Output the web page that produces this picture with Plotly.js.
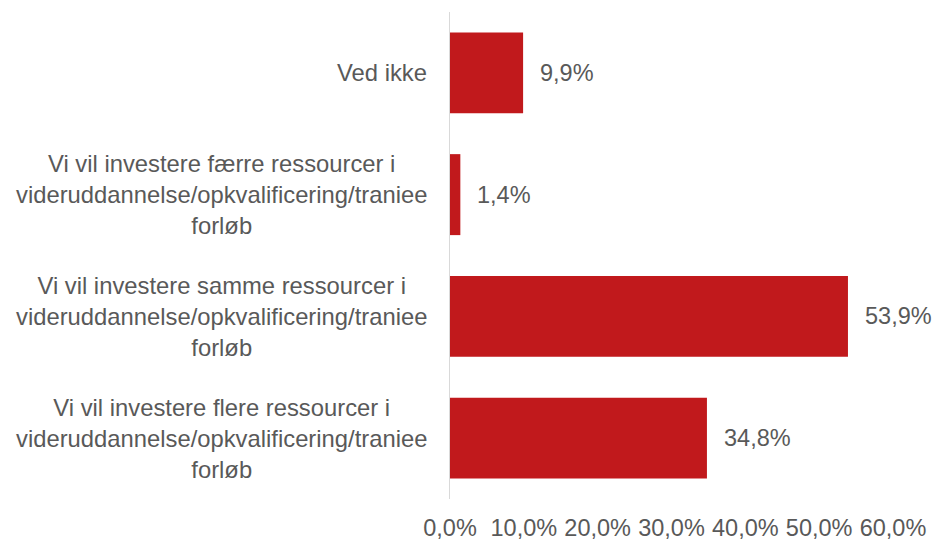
<!DOCTYPE html>
<html>
<head>
<meta charset="utf-8">
<script src="https://cdn.plot.ly/plotly-3.0.1.min.js"></script>
<style>html,body{margin:0;padding:0;background:#fff;}#chart{width:934px;height:539px;}</style>
</head>
<body>
<div id="chart"></div>
<script>
const categories = [
  "Vi vil investere flere ressourcer i<br>videruddannelse/opkvalificering/traniee<br>forløb",
  "Vi vil investere samme ressourcer i<br>videruddannelse/opkvalificering/traniee<br>forløb",
  "Vi vil investere færre ressourcer i<br>videruddannelse/opkvalificering/traniee<br>forløb",
  "Ved ikke"
];
const values = [34.8, 53.9, 1.4, 9.9];
const tickValues = [0, 10, 20, 30, 40, 50, 60];
const tickLabels = ["0,0%", "10,0%", "20,0%", "30,0%", "40,0%", "50,0%", "60,0%"];

const FONT = "Liberation Sans, Arial, sans-serif";
const TXT = "#595959";
const FS = 23.5;

const trace = {
  type: "bar",
  orientation: "h",
  x: values,
  y: categories,
  marker: {color: "#C1191C"},
  hoverinfo: "none"
};

const valueAnnotations = values.map((v, i) => ({
  x: v, y: categories[i], xref: "x", yref: "y",
  text: v.toFixed(1).replace(".", ",") + "%",
  showarrow: false, xanchor: "left", xshift: 15,
  font: {family: FONT, size: FS, color: TXT}
}));

const catAnnotations = categories.map((c) => ({
  x: 0, y: c, xref: "paper", yref: "y",
  text: c, showarrow: false, xanchor: "right", xshift: -21,
  align: "center",
  font: {family: FONT, size: 23.8, color: TXT}
}));

const layout = {
  width: 934, height: 539,
  margin: {l: 450, r: 41, t: 12, b: 40},
  paper_bgcolor: "#fff", plot_bgcolor: "#fff",
  bargap: 0.335,
  showlegend: false,
  xaxis: {
    range: [0, 60], tickvals: tickValues, ticktext: tickLabels,
    showgrid: false, zeroline: false, showline: false, ticks: "",
    ticklabelstandoff: 12,
    tickfont: {family: FONT, size: FS, color: TXT}, fixedrange: true
  },
  yaxis: {
    type: "category", categoryorder: "array", categoryarray: categories,
    showticklabels: false, showgrid: false, zeroline: false,
    showline: true, linecolor: "#D9D9D9", linewidth: 1.5, ticks: "", fixedrange: true
  },
  annotations: valueAnnotations.concat(catAnnotations)
};

Plotly.newPlot("chart", [trace], layout, {displayModeBar: false, staticPlot: true});
</script>
</body>
</html>
